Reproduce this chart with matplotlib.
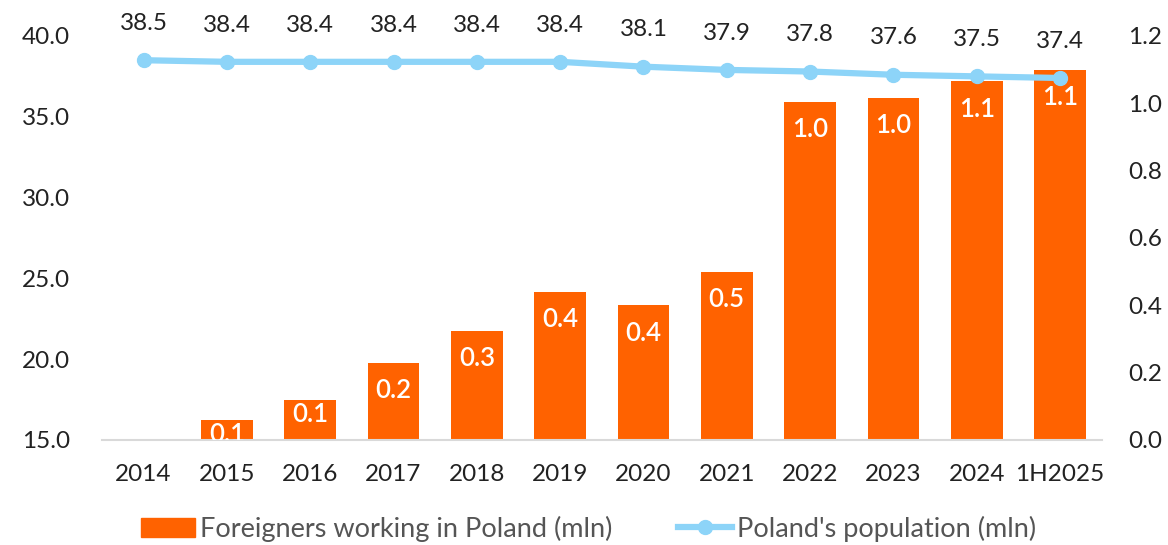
import matplotlib.pyplot as plt
import numpy as np
from matplotlib.lines import Line2D
from matplotlib.patches import Patch
from matplotlib.ticker import FormatStrFormatter

plt.rcParams['font.family'] = ['Lato', 'DejaVu Sans']

years = ["2014", "2015", "2016", "2017", "2018", "2019", "2020", "2021",
         "2022", "2023", "2024", "1H2025"]
population = [38.5, 38.4, 38.4, 38.4, 38.4, 38.4, 38.1, 37.9, 37.8, 37.6, 37.5, 37.4]
foreigners = [0.0, 0.06, 0.12, 0.23, 0.325, 0.44, 0.40, 0.50, 1.005, 1.017, 1.065, 1.10]
foreigner_labels = ["", "0.1", "0.1", "0.2", "0.3", "0.4", "0.4", "0.5",
                    "1.0", "1.0", "1.1", "1.1"]

orange = '#FF6200'
blue = '#8DD4F8'
txt = '#222222'

fig = plt.figure(figsize=(11.68, 5.45), dpi=100)
ax = fig.add_axes([0.0873, 0.1927, 0.8559, 0.7413])
ax2 = ax.twinx()

x = np.arange(len(years))

# bars on the primary axes (drawn below), ticks shown on the right
ax.bar(x, foreigners, width=0.62, color=orange, zorder=2)
ax.set_ylim(0, 1.2)
ax.set_yticks(np.arange(0, 1.21, 0.2))
ax.yaxis.set_major_formatter(FormatStrFormatter('%.1f'))
ax.yaxis.tick_right()
for xi, v, lab in zip(x, foreigners, foreigner_labels):
    if lab:
        # short bars get their label pushed up closer to the top
        dy = -20 if v > 0.18 else -10.5
        t = ax.annotate(lab, (xi, v), xytext=(0, dy), textcoords='offset points',
                        ha='center', va='center', color='white', fontsize=18.5,
                        fontweight='semibold')
        t.set_clip_on(True)
        t.set_clip_path(ax.patch)

# population line on the twin axes, ticks shown on the left
ax2.plot(x, population, color=blue, lw=4.5, marker='o', markersize=10,
         solid_capstyle='round', zorder=3)
ax2.set_ylim(15, 40)
ax2.set_yticks(np.arange(15, 40.1, 5))
ax2.yaxis.set_major_formatter(FormatStrFormatter('%.1f'))
ax2.yaxis.tick_left()
for xi, v in zip(x, population):
    ax2.annotate(f"{v:.1f}", (xi, v), xytext=(0, 26.5), textcoords='offset points',
                 ha='center', va='center', color=txt, fontsize=17.5,
                 annotation_clip=False)

ax.set_xlim(-0.5, len(years) - 0.5)
ax.set_xticks(x)
ax.set_xticklabels(years)

for a in (ax, ax2):
    for s in a.spines.values():
        s.set_visible(False)
    a.tick_params(length=0, labelsize=17.5, labelcolor=txt)
ax.spines['bottom'].set_visible(True)
ax.spines['bottom'].set_color('#d9d9d9')
ax.spines['bottom'].set_linewidth(1.5)
ax.tick_params(axis='x', pad=17)
ax.tick_params(axis='y', pad=19)
ax2.tick_params(axis='y', pad=23)

handles = [Patch(color=orange, label='Foreigners working in Poland (mln)'),
           Line2D([0], [0], color=blue, lw=4.5, marker='o', markersize=10,
                  label="Poland's population (mln)")]
leg = fig.legend(handles=handles, loc='center', bbox_to_anchor=(0.504, 0.03),
                 ncol=2, frameon=False, fontsize=19.5, handlelength=2.0,
                 handletextpad=0.2, columnspacing=2.4)
for t in leg.get_texts():
    t.set_color('#555555')

fig.savefig('out.png', dpi=100)
